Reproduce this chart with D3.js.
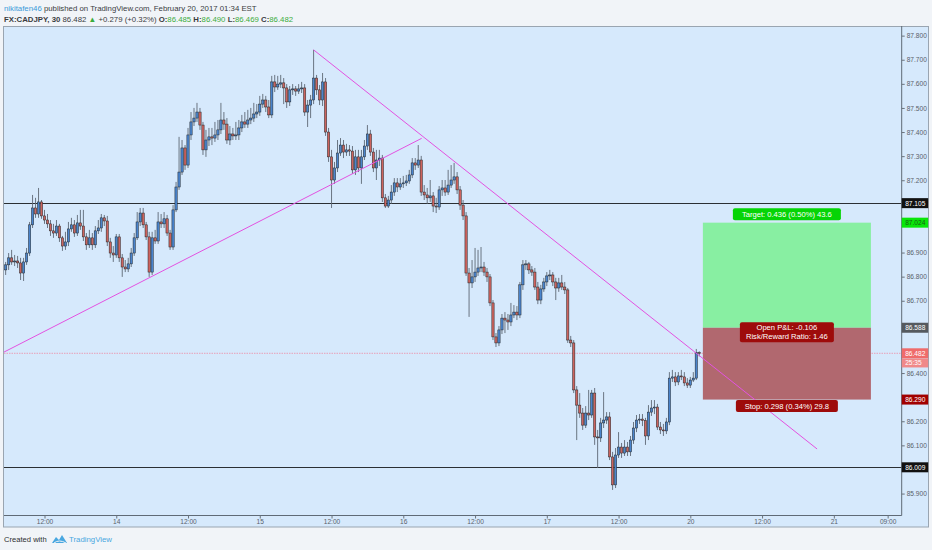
<!DOCTYPE html>
<html>
<head>
<meta charset="utf-8">
<script src="https://d3js.org/d3.v7.min.js"></script>
<style>
  html, body { margin: 0; padding: 0; background: #f1f4f8; }
  svg { display: block; }
</style>
</head>
<body>
<div id="chart"></div>
<script>
"use strict";

// CADJPY 30 min bars, index 0 = Feb 13 12:00 EST, weekend gap removed
var firstIndex = -13;
var firstOpen = 86.828;

var closes = [
	86.849, 86.878, 86.861, 86.865, 86.857, 86.815, 86.861, 86.898, 87.015, 87.085,
	87.060, 87.110, 87.052, 87.035, 87.019, 86.990, 86.981, 87.010, 86.961, 86.927,
	86.944, 86.998, 87.015, 86.981, 87.023, 87.010, 86.965, 86.932, 86.961, 86.932,
	86.990, 87.002, 87.044, 87.031, 86.944, 86.898, 86.890, 86.965, 86.878, 86.840,
	86.832, 86.853, 86.898, 86.961, 87.027, 87.064, 87.015, 86.965, 86.819, 86.961,
	86.948, 87.027, 87.019, 87.040, 86.981, 86.923, 87.077, 87.172, 87.234, 87.334,
	87.263, 87.388, 87.442, 87.458, 87.483, 87.429, 87.326, 87.367, 87.380, 87.375,
	87.388, 87.409, 87.450, 87.433, 87.367, 87.392, 87.384, 87.388, 87.417, 87.442,
	87.433, 87.450, 87.458, 87.475, 87.483, 87.516, 87.533, 87.504, 87.471, 87.608,
	87.587, 87.599, 87.604, 87.583, 87.525, 87.575, 87.579, 87.570, 87.579, 87.583,
	87.483, 87.512, 87.533, 87.624, 87.575, 87.533, 87.608, 87.400, 87.297, 87.201,
	87.251, 87.313, 87.346, 87.317, 87.326, 87.321, 87.243, 87.297, 87.251, 87.297,
	87.342, 87.392, 87.317, 87.251, 87.284, 87.292, 87.127, 87.093, 87.118, 87.151,
	87.189, 87.172, 87.185, 87.189, 87.197, 87.222, 87.272, 87.263, 87.284, 87.151,
	87.139, 87.127, 87.135, 87.093, 87.089, 87.160, 87.168, 87.151, 87.180, 87.201,
	87.214, 87.160, 87.097, 87.052, 86.815, 86.774, 86.799, 86.819, 86.836, 86.840,
	86.819, 86.799, 86.691, 86.550, 86.525, 86.579, 86.628, 86.620, 86.612, 86.641,
	86.653, 86.641, 86.766, 86.849, 86.853, 86.828, 86.819, 86.757, 86.703, 86.749,
	86.778, 86.803, 86.807, 86.778, 86.753, 86.774, 86.757, 86.745, 86.537, 86.525,
	86.330, 86.267, 86.234, 86.184, 86.234, 86.226, 86.317, 86.135, 86.131, 86.193,
	86.205, 86.218, 86.052, 85.936, 86.060, 86.093, 86.068, 86.093, 86.073, 86.122,
	86.172, 86.205, 86.209, 86.203, 86.139, 86.238, 86.255, 86.259, 86.176, 86.164,
	86.160, 86.197, 86.379, 86.384, 86.363, 86.388, 86.384, 86.359, 86.350, 86.371,
	86.379, 86.485, 86.482
];

var highs = [
	86.861, 86.898, 86.911, 86.890, 86.886, 86.878, 86.878, 86.919, 87.027, 87.139,
	87.127, 87.168, 87.118, 87.077, 87.060, 87.035, 87.019, 87.035, 87.019, 86.969,
	86.986, 87.027, 87.044, 87.035, 87.056, 87.077, 87.077, 86.981, 86.994, 86.981,
	87.010, 87.035, 87.060, 87.056, 87.052, 86.961, 86.927, 86.977, 86.977, 86.894,
	86.869, 86.878, 86.919, 86.981, 87.068, 87.085, 87.085, 87.027, 86.986, 86.986,
	86.994, 87.068, 87.060, 87.068, 87.056, 86.994, 87.097, 87.193, 87.380, 87.367,
	87.346, 87.417, 87.483, 87.500, 87.521, 87.500, 87.442, 87.409, 87.417, 87.417,
	87.442, 87.450, 87.521, 87.483, 87.458, 87.425, 87.417, 87.442, 87.450, 87.471,
	87.483, 87.492, 87.500, 87.521, 87.516, 87.550, 87.558, 87.550, 87.533, 87.633,
	87.637, 87.633, 87.637, 87.624, 87.599, 87.591, 87.599, 87.591, 87.599, 87.608,
	87.599, 87.533, 87.554, 87.741, 87.637, 87.595, 87.645, 87.624, 87.417, 87.326,
	87.276, 87.367, 87.375, 87.367, 87.351, 87.346, 87.342, 87.326, 87.326, 87.326,
	87.367, 87.429, 87.409, 87.334, 87.326, 87.326, 87.305, 87.143, 87.135, 87.180,
	87.209, 87.209, 87.209, 87.218, 87.222, 87.243, 87.292, 87.292, 87.346, 87.301,
	87.180, 87.168, 87.201, 87.151, 87.127, 87.176, 87.201, 87.201, 87.243, 87.263,
	87.272, 87.234, 87.176, 87.118, 87.068, 86.836, 86.869, 86.919, 86.911, 86.923,
	86.861, 86.836, 86.811, 86.703, 86.566, 86.595, 86.645, 86.653, 86.645, 86.691,
	86.682, 86.678, 86.778, 86.869, 86.869, 86.861, 86.844, 86.836, 86.778, 86.766,
	86.795, 86.819, 86.828, 86.819, 86.795, 86.795, 86.807, 86.778, 86.753, 86.554,
	86.537, 86.346, 86.317, 86.255, 86.263, 86.330, 86.330, 86.338, 86.164, 86.214,
	86.321, 86.238, 86.238, 86.073, 86.089, 86.155, 86.110, 86.122, 86.114, 86.139,
	86.197, 86.226, 86.230, 86.230, 86.214, 86.267, 86.288, 86.288, 86.272, 86.197,
	86.189, 86.214, 86.404, 86.413, 86.404, 86.404, 86.413, 86.404, 86.379, 86.384,
	86.404, 86.500, 86.490
];

var lows = [
	86.807, 86.828, 86.849, 86.844, 86.836, 86.786, 86.782, 86.849, 86.886, 87.002,
	87.044, 87.044, 87.040, 87.019, 87.002, 86.969, 86.961, 86.969, 86.944, 86.907,
	86.911, 86.927, 86.986, 86.965, 86.969, 86.994, 86.948, 86.911, 86.919, 86.911,
	86.919, 86.977, 86.986, 87.010, 86.927, 86.878, 86.861, 86.878, 86.861, 86.799,
	86.819, 86.819, 86.840, 86.886, 86.952, 87.010, 87.002, 86.952, 86.799, 86.807,
	86.936, 86.936, 87.002, 87.002, 86.969, 86.911, 86.911, 87.068, 87.160, 87.222,
	87.243, 87.251, 87.367, 87.425, 87.442, 87.409, 87.305, 87.297, 87.342, 87.346,
	87.359, 87.367, 87.392, 87.409, 87.351, 87.346, 87.367, 87.367, 87.367, 87.400,
	87.417, 87.417, 87.433, 87.442, 87.458, 87.467, 87.500, 87.483, 87.458, 87.458,
	87.566, 87.575, 87.583, 87.516, 87.500, 87.508, 87.554, 87.550, 87.558, 87.562,
	87.467, 87.421, 87.458, 87.516, 87.554, 87.512, 87.508, 87.384, 87.276, 87.085,
	87.185, 87.234, 87.301, 87.292, 87.301, 87.301, 87.226, 87.222, 87.234, 87.185,
	87.284, 87.326, 87.301, 87.234, 87.201, 87.259, 87.110, 87.085, 87.085, 87.102,
	87.135, 87.151, 87.160, 87.168, 87.176, 87.185, 87.209, 87.243, 87.251, 87.135,
	87.118, 87.102, 87.110, 87.068, 87.064, 87.077, 87.135, 87.135, 87.139, 87.168,
	87.185, 87.143, 87.077, 87.035, 86.803, 86.633, 86.753, 86.778, 86.803, 86.819,
	86.803, 86.778, 86.678, 86.537, 86.508, 86.512, 86.562, 86.566, 86.579, 86.595,
	86.628, 86.620, 86.628, 86.745, 86.828, 86.811, 86.803, 86.745, 86.686, 86.686,
	86.737, 86.761, 86.786, 86.761, 86.703, 86.737, 86.745, 86.728, 86.525, 86.508,
	86.317, 86.122, 86.214, 86.164, 86.172, 86.205, 86.214, 86.102, 86.006, 86.114,
	86.172, 86.189, 86.039, 85.915, 85.923, 86.048, 86.048, 86.056, 86.056, 86.056,
	86.106, 86.155, 86.189, 86.180, 86.102, 86.122, 86.222, 86.230, 86.164, 86.147,
	86.139, 86.147, 86.184, 86.363, 86.346, 86.350, 86.371, 86.346, 86.338, 86.338,
	86.363, 86.371, 86.469
];

// axis ticks
var priceTicks = [85.9, 86.0, 86.1, 86.2, 86.3, 86.4, 86.5, 86.6, 86.7, 86.8, 86.9, 87.0, 87.1, 87.2, 87.3, 87.4, 87.5, 87.6, 87.7, 87.8];
var timeTickIdx = [0, 24, 48, 72, 96, 120, 144, 168, 192, 216, 240, 264, 282];
var timeTickLabels = ["12:00", "14", "12:00", "15", "12:00", "16", "12:00", "17", "12:00", "20", "12:00", "21", "09:00"];

// drawings
var hLevels = [87.105, 86.009];
var trendUp = [[-13.55, 86.487], [126.15, 87.374]];
var trendDown = [[90, 87.741], [258.4, 86.085]];
var prevDayClose = 86.203;
var entry = 86.588, target = 87.024, stop = 86.290;
var posStart = 220.2, posEnd = 276.4;
var countdown = "25:35";

var W = 932, H = 550;
var plotL = 4, plotR = 901.7, plotT = 26, plotB = 515.5;
var font = "'Liberation Sans', Arial, sans-serif";

var svg = d3.select("#chart").append("svg")
	.attr("width", W).attr("height", H)
	.style("font-family", font);

svg.append("rect").attr("width", W).attr("height", H).attr("fill", "#f1f4f8");

// frame + plot bg
svg.append("rect")
	.attr("x", 3.5).attr("y", plotT + 0.5)
	.attr("width", 925).attr("height", 500.5)
	.attr("fill", "#d6e9fc").attr("stroke", "#9aa5b1");

var x = d3.scaleLinear().domain([-13.55, 286.7]).range([plotL, plotR]);
var y = d3.scaleLinear().domain([85.809, 87.840]).range([plotB, plotT]);

svg.append("clipPath").attr("id", "clip")
	.append("rect").attr("x", plotL).attr("y", plotT).attr("width", plotR - plotL).attr("height", plotB - plotT);

var plot = svg.append("g").attr("clip-path", "url(#clip)");

var candles = closes.map(function (c, k) {
	return { i: firstIndex + k, o: k ? closes[k - 1] : firstOpen, h: highs[k], l: lows[k], c: c };
});
var last = candles[candles.length - 1];

// horizontal levels
plot.selectAll("line.level").data(hLevels).enter().append("line")
	.attr("class", "level")
	.attr("x1", plotL).attr("x2", plotR)
	.attr("y1", function (d) { return Math.round(y(d)) + 0.5; })
	.attr("y2", function (d) { return Math.round(y(d)) + 0.5; })
	.attr("stroke", "#2b2f33").attr("stroke-width", 1);

// last price line
plot.append("line")
	.attr("x1", plotL).attr("x2", plotR)
	.attr("y1", y(last.c)).attr("y2", y(last.c))
	.attr("stroke", "#ee8ea6").attr("stroke-width", 0.8)
	.attr("stroke-dasharray", "1.5,1");

// long position box
var bx0 = x(posStart), bx1 = x(posEnd);
plot.append("rect")
	.attr("x", bx0).attr("y", y(target))
	.attr("width", bx1 - bx0).attr("height", y(entry) - y(target))
	.attr("fill", "#88efa2");
plot.append("rect")
	.attr("x", bx0).attr("y", y(entry))
	.attr("width", bx1 - bx0).attr("height", y(stop) - y(entry))
	.attr("fill", "#b1686f");

// candles
var bw = 2.3;
plot.selectAll("line.wick").data(candles).enter().append("line")
	.attr("class", "wick")
	.attr("x1", function (d) { return x(d.i); })
	.attr("x2", function (d) { return x(d.i); })
	.attr("y1", function (d) { return y(d.h); })
	.attr("y2", function (d) { return y(d.l); })
	.attr("stroke", "#5d6874").attr("stroke-width", 0.9);

plot.selectAll("rect.body").data(candles).enter().append("rect")
	.attr("class", "body")
	.attr("x", function (d) { return x(d.i) - bw / 2; })
	.attr("y", function (d) { return y(Math.max(d.o, d.c)); })
	.attr("width", bw)
	.attr("height", function (d) { return Math.max(0.8, Math.abs(y(d.o) - y(d.c))); })
	.attr("fill", function (d) { return d.c >= d.o ? "#4a84cc" : "#cc635e"; })
	.attr("stroke", "#232629").attr("stroke-width", 0.5);

// trend lines
var line = d3.line().x(function (d) { return x(d[0]); }).y(function (d) { return y(d[1]); });
plot.selectAll("path.trend").data([trendUp, trendDown]).enter().append("path")
	.attr("class", "trend")
	.attr("d", line)
	.attr("fill", "none").attr("stroke", "#e352e0").attr("stroke-width", 1);

// position labels
var pip = 0.01;
function fmt3(v) { return d3.format(".3f")(v).replace("\u2212", "-"); }
var cx = (bx0 + bx1) / 2;
function labelBox(cy, w, h, fill, lines) {
	var g = svg.append("g");
	g.append("rect").attr("x", cx - w / 2).attr("y", cy - h / 2)
		.attr("width", w).attr("height", h).attr("rx", 2).attr("fill", fill);
	lines.forEach(function (t, k) {
		g.append("text").attr("x", cx).attr("y", cy - (lines.length - 1) * 4.5 + k * 9 + 2.6)
			.attr("text-anchor", "middle").attr("font-size", 7.6).attr("fill", "#fff").text(t);
	});
}
var tgt = target - entry, stp = entry - stop;
labelBox(y(target) - 8.5, 108, 12, "#06d406",
	["Target: " + fmt3(tgt) + " (" + d3.format(".2f")(tgt / entry * 100) + "%) " + d3.format(".1f")(tgt / pip)]);
labelBox(y(entry) + 4.5, 94, 20, "#9e0b0b",
	["Open P&L: " + fmt3(last.c - entry), "Risk/Reward Ratio: " + d3.format(".2f")(tgt / stp)]);
labelBox(y(stop) + 6.5, 102, 12, "#9e0b0b",
	["Stop: " + fmt3(stp) + " (" + d3.format(".2f")(stp / entry * 100) + "%) " + d3.format(".1f")(stp / pip)]);

// axes
svg.append("line").attr("x1", plotR).attr("x2", plotR).attr("y1", plotT).attr("y2", plotB)
	.attr("stroke", "#5f6a76");
svg.append("line").attr("x1", plotL).attr("x2", plotR).attr("y1", plotB).attr("y2", plotB)
	.attr("stroke", "#5f6a76");

// price tags sit on the axis and cover the tick labels they hit
var tags = [
	{ p: hLevels[0], fill: "#111", color: "#fff" },
	{ p: target, fill: "#09e609", color: "#185c18" },
	{ p: entry, fill: "#555a5f", color: "#fff" },
	{ p: last.c, fill: "#ef6b6b", color: "#fff" },
	{ p: last.c - 0.04, fill: "#f08989", color: "#fff", txt: countdown, h: 9 },
	{ p: stop, fill: "#a10000", color: "#fff" },
	{ p: hLevels[1], fill: "#111", color: "#fff" }
];
var visibleTicks = priceTicks.filter(function (t) {
	return tags.every(function (g) { return Math.abs(y(t) - y(g.p)) > 9; });
});

var yAxis = svg.append("g").attr("transform", "translate(" + plotR + ",0)")
	.call(d3.axisRight(y).tickValues(visibleTicks).tickFormat(d3.format(".3f")).tickSize(3).tickPadding(2));
var xAxis = svg.append("g").attr("transform", "translate(0," + plotB + ")")
	.call(d3.axisBottom(x).tickValues(timeTickIdx).tickFormat(function (d, k) { return timeTickLabels[k]; }).tickSize(3).tickPadding(1));
[yAxis, xAxis].forEach(function (a) {
	a.select(".domain").remove();
	a.selectAll("line").attr("stroke", "#6a737d");
	a.selectAll("text").attr("fill", "#59616a").attr("font-size", 6.6).style("font-family", font);
});

tags.forEach(function (g) {
	var h = g.h || 10;
	svg.append("rect").attr("x", plotR).attr("y", y(g.p) - h / 2)
		.attr("width", 26.5).attr("height", h).attr("fill", g.fill);
	svg.append("text").attr("x", plotR + 3.5).attr("y", y(g.p) + 2.4)
		.attr("font-size", 6.6).attr("fill", g.color).text(g.txt || fmt3(g.p));
});

// header
var h1 = svg.append("text").attr("x", 4).attr("y", 10.5).attr("font-size", 7.8).attr("fill", "#3a3c3f");
h1.append("tspan").attr("fill", "#3b9ad8").text("nikitafen46");
h1.append("tspan").text(" published on TradingView.com, February 20, 2017 01:34 EST");

var chg = last.c - prevDayClose;
var green = "#3cac3c";
var h2 = svg.append("text").attr("x", 4).attr("y", 21.5).attr("font-size", 7.8).attr("fill", "#3a3c3f");
h2.append("tspan").attr("font-weight", "bold").text("FX:CADJPY, 30");
h2.append("tspan").text(" " + fmt3(last.c) + " ");
h2.append("tspan").attr("fill", green).text("▲");
h2.append("tspan").text(" +" + fmt3(chg) + " (+" + d3.format(".2f")(chg / prevDayClose * 100) + "%) ");
[["O:", last.o], ["H:", last.h], ["L:", last.l], ["C:", last.c]].forEach(function (p) {
	h2.append("tspan").attr("font-weight", "bold").text(" " + p[0]);
	h2.append("tspan").attr("fill", green).text(fmt3(p[1]));
});

// footer
svg.append("text").attr("x", 4).attr("y", 542).attr("font-size", 7.6).attr("fill", "#2d2f31").text("Created with");
var logo = svg.append("g").attr("transform", "translate(52,535)");
logo.append("path").attr("d", "M0,8 L4,2 L7,5 L10,0 L15,8 Z").attr("fill", "#49a7e0");
logo.append("path").attr("d", "M2,8 Q7,4 14,8").attr("fill", "none").attr("stroke", "#f1f4f8").attr("stroke-width", 1);
svg.append("text").attr("x", 69).attr("y", 542).attr("font-size", 7.8).attr("fill", "#49a7e0").text("TradingView");
</script>
</body>
</html>
